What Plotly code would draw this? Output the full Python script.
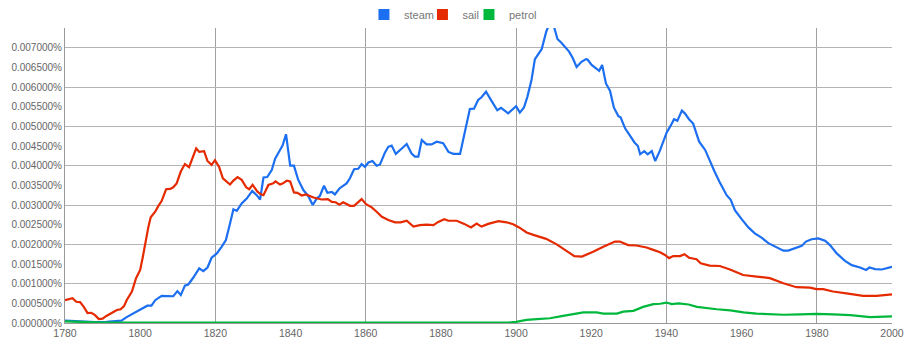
import plotly.graph_objects as go

# ---- data (percent of corpus) ----
steam_years = [1780, 1782, 1785, 1788, 1791, 1794, 1795, 1796.4, 1798.2, 1800, 1801.9, 1803, 1804, 1805.7, 1807, 1808.8,
               1809.9, 1810.8, 1811.9, 1812.8, 1814.1, 1815.7, 1816.8, 1817.9, 1819, 1820.4, 1821.7, 1822.8, 1823.9,
               1824.8, 1825.7, 1827, 1828.4, 1829.8, 1831, 1831.9, 1832.8, 1833.8, 1835, 1835.9, 1837.2, 1837.9, 1838.8,
               1839.9, 1840.9, 1842, 1843.4, 1844.7, 1845.9, 1847, 1847.8, 1848.9, 1849.8, 1851, 1851.8, 1853, 1854.9,
               1855.8, 1856.9, 1858, 1858.9, 1859.8, 1860.7, 1861.8, 1862.9, 1863.8, 1865.1, 1866, 1866.9, 1868, 1869.3,
               1870.9, 1872.2, 1873.1, 1874, 1874.9, 1876.2, 1877.5, 1878.9, 1880.6, 1882, 1883.3, 1885.1, 1886.4, 1887.7,
               1888.8, 1889.9, 1890.8, 1892, 1893.5, 1895, 1896, 1897.9, 1900, 1901, 1902.1, 1903, 1904.1, 1905, 1906.8,
               1908, 1908.8, 1909.9, 1911, 1912.1, 1914.1, 1915.1, 1916.1, 1917.4, 1918.6, 1919, 1920.1, 1921.4, 1922.1,
               1922.9, 1923.9, 1925, 1926, 1927.2, 1927.8, 1929, 1930.3, 1931.5, 1932.4, 1933, 1934.1, 1935, 1936.1, 1937,
               1938.2, 1939.2, 1940.1, 1941.2, 1942, 1942.9, 1944.1, 1944.9, 1946, 1947.1, 1948.7, 1950.3, 1951.6, 1952.7,
               1954.1, 1956, 1957.1, 1958.2, 1960, 1961.8, 1963.5, 1965.3, 1967.1, 1968.9, 1971.1, 1972.4, 1974.2, 1976,
               1977.1, 1978.6, 1980.4, 1982.2, 1983.5, 1985.3, 1987.5, 1989.3, 1991.5, 1993.1, 1994, 1995.5, 1997.3,
               1998.8, 2000]
steam = [0.00006, 0.00005, 0.00003, 0.00002, 0.00003, 0.00005, 0.00006, 0.00015, 0.00025, 0.00035, 0.00044, 0.00044,
         0.00058, 0.00069, 0.00069, 0.00068, 0.00081, 0.00071, 0.00095, 0.00098, 0.00115, 0.00139, 0.00132, 0.00141,
         0.00166, 0.00177, 0.00194, 0.00211, 0.00253, 0.00289, 0.00285, 0.00304, 0.00317, 0.00336, 0.00325, 0.00314,
         0.0037, 0.00371, 0.00389, 0.00418, 0.0044, 0.00452, 0.0048, 0.004, 0.004, 0.00365, 0.00338, 0.00323, 0.003,
         0.00317, 0.00323, 0.00349, 0.00331, 0.00333, 0.00327, 0.00342, 0.00355, 0.00368, 0.00391, 0.00392, 0.00404,
         0.00397, 0.00408, 0.00412, 0.004, 0.00403, 0.00433, 0.00448, 0.00451, 0.0043, 0.00441, 0.00455, 0.00431,
         0.00423, 0.00423, 0.00465, 0.00454, 0.00454, 0.00461, 0.00457, 0.00435, 0.0043, 0.0043, 0.0049, 0.00544,
         0.00545, 0.00567, 0.00574, 0.00588, 0.00564, 0.00541, 0.00547, 0.00533, 0.00551, 0.00535, 0.00548, 0.00575,
         0.00618, 0.00671, 0.00696, 0.0074, 0.0076, 0.0076, 0.00722, 0.00712, 0.0069, 0.00673, 0.00651, 0.00664,
         0.00671, 0.0067, 0.00656, 0.00647, 0.00641, 0.00656, 0.00609, 0.0059, 0.00548, 0.00526, 0.00523, 0.00495,
         0.00475, 0.00459, 0.0045, 0.00429, 0.00437, 0.00429, 0.00437, 0.00412, 0.00437, 0.00461, 0.00485, 0.00503,
         0.00518, 0.00514, 0.0054, 0.00533, 0.00518, 0.00507, 0.00461, 0.0044, 0.0041, 0.00387, 0.00359, 0.00325,
         0.00313, 0.00287, 0.00264, 0.00243, 0.00228, 0.00217, 0.00203, 0.00194, 0.00184, 0.00184, 0.0019, 0.00196,
         0.00207, 0.00213, 0.00215, 0.00209, 0.00198, 0.00177, 0.00158, 0.00147, 0.00141, 0.00135, 0.00141, 0.00137,
         0.00136, 0.00139, 0.00143]

sail_years = [1780, 1782, 1783, 1784, 1785, 1786, 1787, 1788, 1789, 1790, 1791, 1792.4, 1793.8, 1794.8, 1795.7, 1796.4,
              1797.8, 1798.9, 1800, 1800.7, 1801.6, 1802.2, 1802.8, 1804, 1804.8, 1805.7, 1806.9, 1808, 1808.8, 1809.7,
              1810.8, 1811.9, 1813, 1814.9, 1815.7, 1817, 1817.9, 1819, 1819.9, 1821, 1822, 1823, 1823.9, 1824.8,
              1825.9, 1827, 1828.2, 1829, 1829.9, 1831.2, 1832, 1832.8, 1834.1, 1835.4, 1836, 1837.2, 1838, 1839,
              1839.9, 1840.9, 1841.8, 1843, 1844.1, 1846.1, 1848.3, 1849.9, 1851, 1852, 1853, 1854, 1855.8, 1856.9,
              1858.9, 1860.1, 1861.6, 1862.9, 1864.3, 1866, 1867.8, 1869.3, 1870.9, 1872.7, 1874.4, 1876.2, 1878,
              1879.3, 1880.9, 1882, 1884.2, 1886.2, 1888, 1889.5, 1890.8, 1892.6, 1895.3, 1897.5, 1899.2, 1900.8,
              1902.8, 1904.6, 1908, 1910.8, 1913, 1915.5, 1917.5, 1920.5, 1923.2, 1926.3, 1927.6, 1929.8, 1932,
              1934.7, 1936.5, 1938.3, 1939.6, 1940.7, 1941.8, 1943.6, 1944.8, 1946, 1948, 1949.1, 1951.5, 1954.2,
              1956.9, 1960.4, 1964, 1967.5, 1971.1, 1974.6, 1978.2, 1979.9, 1981.7, 1984.3, 1988.8, 1992.3, 1995.9,
              2000]
sail = [0.00058, 0.00063, 0.00054, 0.00053, 0.00041, 0.00025, 0.00026, 0.0002, 0.0001, 0.00011, 0.00018, 0.00026,
        0.00033, 0.00035, 0.00043, 0.00058, 0.0008, 0.00114, 0.00135, 0.00168, 0.00219, 0.00245, 0.00269, 0.00283,
        0.00297, 0.0031, 0.0034, 0.00341, 0.00345, 0.00355, 0.00385, 0.00404, 0.00396, 0.00444, 0.00435, 0.00437,
        0.00412, 0.00402, 0.00414, 0.00397, 0.00368, 0.00359, 0.00352, 0.00362, 0.00371, 0.00364, 0.00345, 0.0034,
        0.00351, 0.00334, 0.00328, 0.00325, 0.00351, 0.00355, 0.0036, 0.00352, 0.00355, 0.00362, 0.0036, 0.00332,
        0.00331, 0.00324, 0.00327, 0.00319, 0.00314, 0.00315, 0.00308, 0.00307, 0.00301, 0.00307, 0.00298, 0.00298,
        0.00315, 0.00302, 0.00294, 0.00283, 0.0027, 0.00262, 0.00256, 0.00256, 0.0026, 0.00245, 0.00249, 0.0025,
        0.00249, 0.00257, 0.00264, 0.0026, 0.0026, 0.00252, 0.00243, 0.00253, 0.00245, 0.00252, 0.00259, 0.00256,
        0.00251, 0.00243, 0.0023, 0.00224, 0.00214, 0.002, 0.00185, 0.0017, 0.00169, 0.00181, 0.00194, 0.00207,
        0.00207, 0.00198, 0.00197, 0.00192, 0.00186, 0.0018, 0.00173, 0.00165, 0.0017, 0.0017, 0.00175, 0.00166,
        0.00162, 0.00152, 0.00146, 0.00145, 0.00136, 0.00122, 0.00118, 0.00114, 0.00101, 0.00091, 0.0009, 0.00086,
        0.00086, 0.0008, 0.00074, 0.00069, 0.00069, 0.00073]

petrol_years = [1780, 1785, 1790, 1800, 1850, 1898, 1900, 1902.8, 1905.5, 1909, 1912.5, 1917.9, 1921.4, 1923.2, 1926.8,
                1928.5, 1931.2, 1933.8, 1936.5, 1938.3, 1940, 1941.4, 1943.2, 1945.9, 1948.1, 1950.3, 1953.4, 1957,
                1960.5, 1964, 1967.6, 1971.1, 1975.6, 1980, 1984.4, 1988.9, 1994.2, 2000]
petrol = [0.00004, 0.00002, 0.00001, 0.00001, 0.00001, 0.00001, 0.00003, 0.00008, 0.0001, 0.00012, 0.00018, 0.00027,
          0.00027, 0.00024, 0.00024, 0.00029, 0.00031, 0.00041, 0.00048, 0.00049, 0.00052, 0.00048, 0.0005, 0.00047,
          0.00041, 0.00038, 0.00035, 0.00032, 0.00027, 0.00024, 0.00022, 0.00021, 0.00022, 0.00023, 0.00022, 0.0002,
          0.00015, 0.00017]

series_names = ["steam", "sail", "petrol"]
series_colors = ["#1c6ff0", "#e52a00", "#00b83c"]

x_ticks = list(range(1780, 2001, 20))
x_grid = [1820, 1860, 1900, 1940, 1980]
y_ticks = [i * 0.0005 for i in range(15)]
y_ticktext = [f"{v:.6f}%" for v in y_ticks]
y_grid = [i * 0.001 for i in range(1, 8)]

FONT = "Liberation Sans, Arial, sans-serif"
legend_ids = ["legend", "legend2", "legend3"]
legend_x = [0.3982, 0.4622, 0.5131]

fig = go.Figure()
# helper (empty) trace so the grid axes get drawn
fig.add_trace(go.Scatter(x=[None], y=[None], xaxis="x2", yaxis="y2", showlegend=False, hoverinfo="skip"))
data = [(steam_years, steam), (sail_years, sail), (petrol_years, petrol)]
for (xs, ys), name, col in zip(data, series_names, series_colors):
    fig.add_trace(go.Scatter(x=xs, y=ys, mode="lines", name=name, showlegend=False,
                             line=dict(color=col, width=2.2), hoverinfo="skip"))
# legend entries as squares (one legend box per series so spacing can follow the reference)
for name, col, lid in zip(series_names, series_colors, legend_ids):
    fig.add_trace(go.Scatter(x=[None], y=[None], mode="markers", name=name, legend=lid,
                             marker=dict(symbol="square", size=11, color=col)))

legend_common = dict(orientation="h", xref="container", xanchor="left",
                     yref="container", y=1.0, yanchor="top",
                     font=dict(size=11, color="#777777"), itemwidth=30,
                     bgcolor="rgba(0,0,0,0)", borderwidth=0)

fig.update_layout(
    width=914, height=345,
    margin=dict(l=65, r=22, t=28, b=22, autoexpand=False),
    paper_bgcolor="white", plot_bgcolor="white",
    font=dict(family=FONT, color="#666666", size=10),
    legend=dict(x=legend_x[0], **legend_common),
    legend2=dict(x=legend_x[1], **legend_common),
    legend3=dict(x=legend_x[2], **legend_common),
    xaxis=dict(range=[1780, 2000], tickvals=x_ticks, showgrid=False, zeroline=False,
               showline=True, linecolor="#999999", linewidth=1, ticks="",
               tickfont=dict(size=10.5, color="#666666")),
    yaxis=dict(range=[0, 0.0075], tickvals=y_ticks, ticktext=y_ticktext,
               showgrid=False, zeroline=False, showline=True, linecolor="#999999", linewidth=1,
               ticks="", tickfont=dict(size=10, color="#666666")),
    xaxis2=dict(overlaying="x", range=[1780, 2000], tickvals=x_grid, showgrid=True,
                gridcolor="#a0a0a0", gridwidth=1, showticklabels=False, zeroline=False,
                showline=False, ticks=""),
    yaxis2=dict(overlaying="y", range=[0, 0.0075], tickvals=y_grid, showgrid=True,
                gridcolor="#b4b4b4", gridwidth=1, showticklabels=False, zeroline=False,
                showline=False, ticks=""),
)

fig.write_html("out.html")
